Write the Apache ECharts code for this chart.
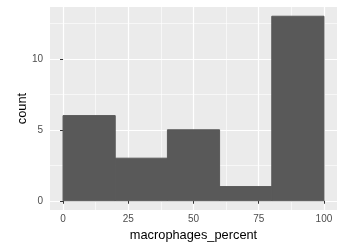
<!DOCTYPE html>
<html>
<head>
<meta charset="utf-8">
<title>histogram</title>
<style>
  html, body { margin: 0; padding: 0; background: #fff; }
  #main { width: 339px; height: 247px; }
</style>
</head>
<body>
<div id="main"></div>
<script src="https://cdn.jsdelivr.net/npm/echarts@6/dist/echarts.min.js"></script>
<script>
// bins of width 20
var binStart = [0, 20, 40, 60, 80];
var binEnd = [20, 40, 60, 80, 100];
var counts = [6, 3, 5, 1, 13];
var xTicks = [0, 25, 50, 75, 100];
var xMinor = [12.5, 37.5, 62.5, 87.5];
var yTicks = [0, 5, 10];
var yMinor = [2.5, 7.5, 12.5];

var font = 'Liberation Sans, Arial, sans-serif';
var data = binStart.map(function (s, i) { return [s, binEnd[i], counts[i]]; });

var chart = echarts.init(document.getElementById('main'));
chart.setOption({
  animation: false,
  grid: {
    left: 50, right: 2, top: 7, bottom: 34,
    show: true, backgroundColor: '#EBEBEB', borderWidth: 0
  },
  xAxis: [{
    type: 'value', min: -5, max: 105,
    name: 'macrophages_percent', nameLocation: 'middle', nameGap: 19, nameMoveOverlap: false,
    nameTextStyle: { fontFamily: font, fontSize: 12.8, color: '#000' },
    axisLine: { show: false },
    axisTick: { show: true, length: 3, customValues: xTicks, lineStyle: { color: '#333', width: 1 } },
    axisLabel: { customValues: xTicks, margin: 4, fontFamily: font, fontSize: 10, color: '#4D4D4D' },
    splitLine: { show: true, lineStyle: { color: '#fff', width: 1.2 } }
  }, {
    type: 'value', min: -5, max: 105, position: 'top',
    axisLine: { show: false },
    axisTick: { show: false, customValues: xMinor },
    axisLabel: { show: false },
    splitLine: { show: true, lineStyle: { color: '#fff', width: 0.6 } }
  }],
  yAxis: [{
    type: 'value', min: -0.65, max: 13.65,
    name: 'count', nameLocation: 'middle', nameGap: 21, nameMoveOverlap: false,
    nameTextStyle: { fontFamily: font, fontSize: 12.8, color: '#000' },
    axisLine: { show: false },
    axisTick: { show: true, length: 3, customValues: yTicks, lineStyle: { color: '#333', width: 1 } },
    axisLabel: { customValues: yTicks, margin: 7, fontFamily: font, fontSize: 10, color: '#4D4D4D' },
    splitLine: { show: true, lineStyle: { color: '#fff', width: 1.2 } }
  }, {
    type: 'value', min: -0.65, max: 13.65, position: 'right',
    axisLine: { show: false },
    axisTick: { show: false, customValues: yMinor },
    axisLabel: { show: false },
    splitLine: { show: true, lineStyle: { color: '#fff', width: 0.6 } }
  }],
  series: [{
    type: 'custom',
    data: data,
    encode: { x: [0, 1], y: 2 },
    renderItem: function (params, api) {
      var p0 = api.coord([api.value(0), api.value(2)]);
      var p1 = api.coord([api.value(1), 0]);
      return {
        type: 'rect',
        shape: { x: p0[0], y: p0[1], width: p1[0] - p0[0], height: p1[1] - p0[1] },
        style: { fill: '#595959', stroke: '#595959', lineWidth: 1 }
      };
    }
  }]
});
</script>
</body>
</html>
